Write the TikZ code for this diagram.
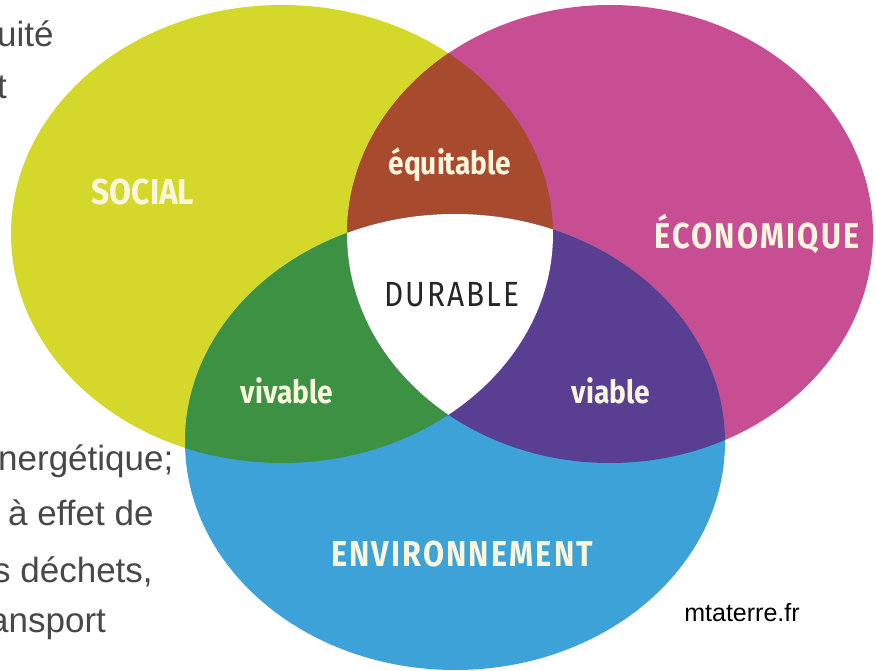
\documentclass[tikz,border=0pt]{standalone}
\usepackage{fontspec}
\setmainfont{Liberation Sans}
\newfontfamily\vennfont{Fira Sans}[FakeStretch=0.88]
\newfontfamily\venncaps{Fira Sans}[FakeStretch=0.85, LetterSpace=6]

\definecolor{socialcol}{RGB}{212,216,42}
\definecolor{ecocol}{RGB}{200,78,148}
\definecolor{envcol}{RGB}{60,162,216}
\definecolor{equicol}{RGB}{168,74,46}
\definecolor{vivcol}{RGB}{60,146,66}
\definecolor{viacol}{RGB}{90,62,146}
\definecolor{labelcol}{RGB}{250,246,222}
\definecolor{greytext}{RGB}{72,72,72}

\tikzstyle{pillar} = [font=\venncaps\bfseries\fontsize{36}{36}\selectfont, text=labelcol, inner sep=0pt, anchor=base]
\tikzstyle{shared} = [font=\vennfont\bfseries\fontsize{32}{32}\selectfont, text=labelcol, inner sep=0pt, anchor=base]
\tikzstyle{core} = [font=\venncaps\fontsize{35}{35}\selectfont, text=black!85, inner sep=0pt, anchor=base]
\tikzstyle{leftover} = [font=\fontsize{35}{35}\selectfont, text=greytext, inner sep=0pt, anchor=base west]
\tikzstyle{source} = [font=\fontsize{25}{25}\selectfont, text=black, inner sep=0pt, anchor=base]

% the three pillars
\def\social{(282,234) ellipse [x radius=271pt, y radius=229pt]}
\def\economic{(610,234) ellipse [x radius=263pt, y radius=229pt]}
\def\environ{(455,442) ellipse [x radius=270pt, y radius=228pt]}

\begin{document}
\begin{tikzpicture}[x=1pt,y=-1pt]

\fill[white] (0,0) rectangle (876,671);
\useasboundingbox (0,0) rectangle (876,671);

\fill[socialcol] \social;
\fill[ecocol] \economic;
\fill[envcol] \environ;

% overlaps
\begin{scope}
\clip \social;
\fill[equicol] \economic;
\fill[vivcol] \environ;
\end{scope}
\begin{scope}
\clip \economic;
\fill[viacol] \environ;
\end{scope}
\begin{scope}
\clip \social;
\clip \economic;
\fill[white] \environ;
\end{scope}

\node (soc) [pillar, font=\vennfont\bfseries\fontsize{36}{36}\selectfont] at (143,205) {SOCIAL};
\node (eco) [pillar] at (757,249) {ÉCONOMIQUE};
\node (env) [pillar] at (462,566) {ENVIRONNEMENT};
\node (equ) [shared] at (450,175) {équitable};
\node (viv) [shared] at (287,403) {vivable};
\node (via) [shared] at (611,403) {viable};
\node (dur) [core] at (452,306) {DURABLE};

% cut-off text from the slide
\node (t1) [leftover] at (-3,47) {uité};
\node (t2) [leftover] at (-3,99) {t};
\node (t3) [leftover] at (-2,470) {nergétique;};
\node (t4) [leftover] at (8,525) {à effet de};
\node (t5) [leftover] at (-7,582) {s déchets,};
\node (t6) [leftover] at (-11,632) {ansport};

\node (src) [source] at (742,621) {mtaterre.fr};

\end{tikzpicture}
\end{document}
